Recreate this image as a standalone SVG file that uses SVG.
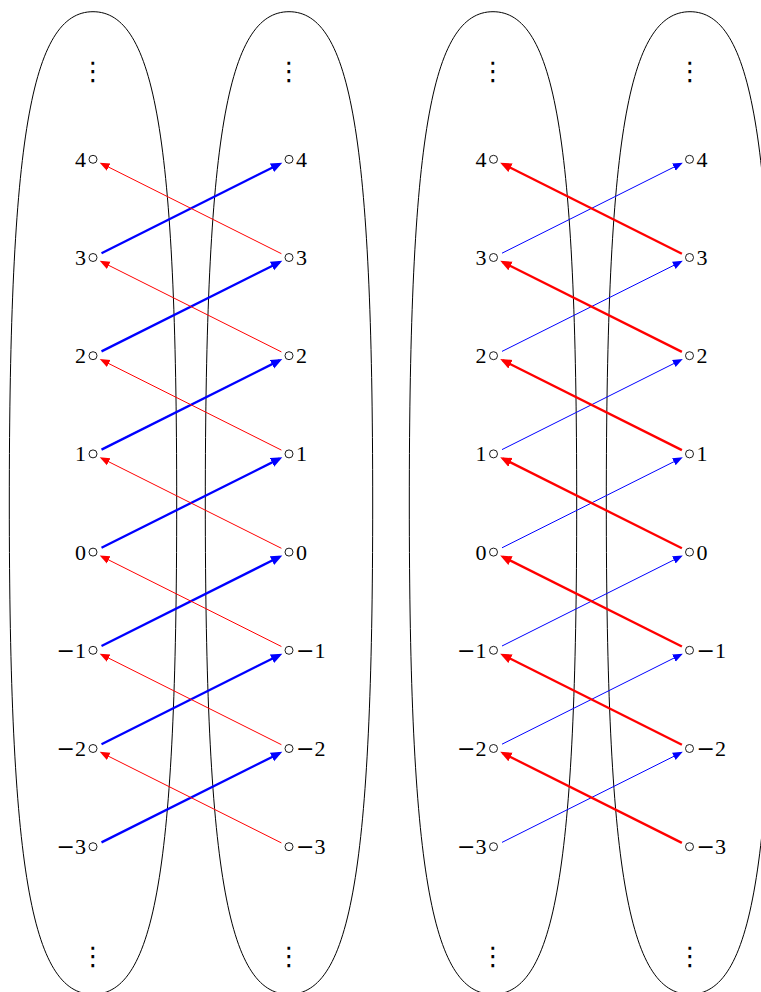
<svg xmlns="http://www.w3.org/2000/svg" width="761" height="992" viewBox="0 0 761 992">
<style>
.ell{fill:none;stroke:#000;stroke-width:1}
.nd{fill:#fff;stroke:#000;stroke-width:0.9}
.lbl{font-family:"Liberation Serif","DejaVu Serif",serif;font-size:22px;fill:#000}
.mn{font-family:"DejaVu Serif",serif}
.l{text-anchor:end}
.r{text-anchor:start}
.dots{font-family:"DejaVu Sans",sans-serif;font-size:26px;fill:#000;text-anchor:middle}
.bk{stroke:#0000ff;stroke-width:2.3;fill:none;marker-end:url(#ab)}
.bn{stroke:#0000ff;stroke-width:1;fill:none;marker-end:url(#abn)}
.rk{stroke:#ff0000;stroke-width:2.3;fill:none;marker-end:url(#ar)}
.rn{stroke:#ff0000;stroke-width:1;fill:none;marker-end:url(#arn)}
</style>
<defs>
<path id="oval" d="M0,11.7 C61.94,11.7 83.7,139.44 83.7,503 C83.7,866.56 61.94,994.3 0,994.3 C-61.94,994.3 -83.7,866.56 -83.7,503 C-83.7,139.44 -61.94,11.7 0,11.7 Z"/>
<marker id="ab" markerUnits="userSpaceOnUse" markerWidth="14" markerHeight="12" viewBox="0 -6 14 12" refX="8.5" refY="0" orient="auto"><path d="M0,-4.8 L11.5,0 L0,4.8 Z" fill="#0000ff"/></marker>
<marker id="abn" markerUnits="userSpaceOnUse" markerWidth="14" markerHeight="12" viewBox="0 -6 14 12" refX="7" refY="0" orient="auto"><path d="M0,-4 L10,0 L0,4 Z" fill="#0000ff"/></marker>
<marker id="ar" markerUnits="userSpaceOnUse" markerWidth="14" markerHeight="12" viewBox="0 -6 14 12" refX="8.5" refY="0" orient="auto"><path d="M0,-4.8 L11.5,0 L0,4.8 Z" fill="#ff0000"/></marker>
<marker id="arn" markerUnits="userSpaceOnUse" markerWidth="14" markerHeight="12" viewBox="0 -6 14 12" refX="7" refY="0" orient="auto"><path d="M0,-4 L10,0 L0,4 Z" fill="#ff0000"/></marker>
</defs>

<g id="ellipses">
<use href="#oval" class="ell" transform="translate(93,0)"/>
<use href="#oval" class="ell" transform="translate(289,0)"/>
<use href="#oval" class="ell" transform="translate(493,0)"/>
<use href="#oval" class="ell" transform="translate(690,0)"/>
</g>

<g id="connectors-left">
<line class="bk" x1="101.5" y1="253.2" x2="279.6" y2="164.0"/>
<line class="bk" x1="101.5" y1="351.4" x2="279.6" y2="262.2"/>
<line class="bk" x1="101.5" y1="449.6" x2="279.6" y2="360.4"/>
<line class="bk" x1="101.5" y1="547.8" x2="279.6" y2="458.6"/>
<line class="bk" x1="101.5" y1="646.0" x2="279.6" y2="556.8"/>
<line class="bk" x1="101.5" y1="744.2" x2="279.6" y2="655.0"/>
<line class="bk" x1="101.5" y1="842.4" x2="279.6" y2="753.2"/>
<line class="rn" x1="281.4" y1="253.7" x2="102.4" y2="164.0"/>
<line class="rn" x1="281.4" y1="351.9" x2="102.4" y2="262.2"/>
<line class="rn" x1="281.4" y1="450.1" x2="102.4" y2="360.4"/>
<line class="rn" x1="281.4" y1="548.3" x2="102.4" y2="458.6"/>
<line class="rn" x1="281.4" y1="646.5" x2="102.4" y2="556.8"/>
<line class="rn" x1="281.4" y1="744.7" x2="102.4" y2="655.0"/>
<line class="rn" x1="281.4" y1="842.9" x2="102.4" y2="753.2"/>
</g>

<g id="connectors-right" transform="translate(400.5,0)">
<line class="bn" x1="101.5" y1="253.2" x2="279.6" y2="164.0"/>
<line class="bn" x1="101.5" y1="351.4" x2="279.6" y2="262.2"/>
<line class="bn" x1="101.5" y1="449.6" x2="279.6" y2="360.4"/>
<line class="bn" x1="101.5" y1="547.8" x2="279.6" y2="458.6"/>
<line class="bn" x1="101.5" y1="646.0" x2="279.6" y2="556.8"/>
<line class="bn" x1="101.5" y1="744.2" x2="279.6" y2="655.0"/>
<line class="bn" x1="101.5" y1="842.4" x2="279.6" y2="753.2"/>
<line class="rk" x1="281.4" y1="253.7" x2="102.4" y2="164.0"/>
<line class="rk" x1="281.4" y1="351.9" x2="102.4" y2="262.2"/>
<line class="rk" x1="281.4" y1="450.1" x2="102.4" y2="360.4"/>
<line class="rk" x1="281.4" y1="548.3" x2="102.4" y2="458.6"/>
<line class="rk" x1="281.4" y1="646.5" x2="102.4" y2="556.8"/>
<line class="rk" x1="281.4" y1="744.7" x2="102.4" y2="655.0"/>
<line class="rk" x1="281.4" y1="842.9" x2="102.4" y2="753.2"/>
</g>

<g id="dots">
<text class="dots" x="93" y="80">⋮</text>
<text class="dots" x="289" y="80">⋮</text>
<text class="dots" x="493" y="80">⋮</text>
<text class="dots" x="690" y="80">⋮</text>
<text class="dots" x="93" y="965">⋮</text>
<text class="dots" x="289" y="965">⋮</text>
<text class="dots" x="493" y="965">⋮</text>
<text class="dots" x="690" y="965">⋮</text>
</g>

<g id="diagram-left">
<g id="L1-4"><circle class="nd" cx="93" cy="159.3" r="4"/><text class="lbl l" x="86" y="166.8">4</text></g>
<g id="L1-3"><circle class="nd" cx="93" cy="257.5" r="4"/><text class="lbl l" x="86" y="265">3</text></g>
<g id="L1-2"><circle class="nd" cx="93" cy="355.7" r="4"/><text class="lbl l" x="86" y="363.2">2</text></g>
<g id="L1-1"><circle class="nd" cx="93" cy="453.9" r="4"/><text class="lbl l" x="86" y="461.4">1</text></g>
<g id="L1-0"><circle class="nd" cx="93" cy="552.1" r="4"/><text class="lbl l" x="86" y="559.6">0</text></g>
<g id="L1-m1"><circle class="nd" cx="93" cy="650.3" r="4"/><text class="lbl l" x="86" y="657.8"><tspan class="mn">−</tspan>1</text></g>
<g id="L1-m2"><circle class="nd" cx="93" cy="748.5" r="4"/><text class="lbl l" x="86" y="756"><tspan class="mn">−</tspan>2</text></g>
<g id="L1-m3"><circle class="nd" cx="93" cy="846.7" r="4"/><text class="lbl l" x="86" y="854.2"><tspan class="mn">−</tspan>3</text></g>
<g id="R1-4"><circle class="nd" cx="289" cy="159.3" r="4"/><text class="lbl r" x="296" y="166.8">4</text></g>
<g id="R1-3"><circle class="nd" cx="289" cy="257.5" r="4"/><text class="lbl r" x="296" y="265">3</text></g>
<g id="R1-2"><circle class="nd" cx="289" cy="355.7" r="4"/><text class="lbl r" x="296" y="363.2">2</text></g>
<g id="R1-1"><circle class="nd" cx="289" cy="453.9" r="4"/><text class="lbl r" x="296" y="461.4">1</text></g>
<g id="R1-0"><circle class="nd" cx="289" cy="552.1" r="4"/><text class="lbl r" x="296" y="559.6">0</text></g>
<g id="R1-m1"><circle class="nd" cx="289" cy="650.3" r="4"/><text class="lbl r" x="296" y="657.8"><tspan class="mn">−</tspan>1</text></g>
<g id="R1-m2"><circle class="nd" cx="289" cy="748.5" r="4"/><text class="lbl r" x="296" y="756"><tspan class="mn">−</tspan>2</text></g>
<g id="R1-m3"><circle class="nd" cx="289" cy="846.7" r="4"/><text class="lbl r" x="296" y="854.2"><tspan class="mn">−</tspan>3</text></g>
</g>

<g id="diagram-right" transform="translate(400.5,0)">
<g id="L2-4"><circle class="nd" cx="93" cy="159.3" r="4"/><text class="lbl l" x="86" y="166.8">4</text></g>
<g id="L2-3"><circle class="nd" cx="93" cy="257.5" r="4"/><text class="lbl l" x="86" y="265">3</text></g>
<g id="L2-2"><circle class="nd" cx="93" cy="355.7" r="4"/><text class="lbl l" x="86" y="363.2">2</text></g>
<g id="L2-1"><circle class="nd" cx="93" cy="453.9" r="4"/><text class="lbl l" x="86" y="461.4">1</text></g>
<g id="L2-0"><circle class="nd" cx="93" cy="552.1" r="4"/><text class="lbl l" x="86" y="559.6">0</text></g>
<g id="L2-m1"><circle class="nd" cx="93" cy="650.3" r="4"/><text class="lbl l" x="86" y="657.8"><tspan class="mn">−</tspan>1</text></g>
<g id="L2-m2"><circle class="nd" cx="93" cy="748.5" r="4"/><text class="lbl l" x="86" y="756"><tspan class="mn">−</tspan>2</text></g>
<g id="L2-m3"><circle class="nd" cx="93" cy="846.7" r="4"/><text class="lbl l" x="86" y="854.2"><tspan class="mn">−</tspan>3</text></g>
<g id="R2-4"><circle class="nd" cx="289" cy="159.3" r="4"/><text class="lbl r" x="296" y="166.8">4</text></g>
<g id="R2-3"><circle class="nd" cx="289" cy="257.5" r="4"/><text class="lbl r" x="296" y="265">3</text></g>
<g id="R2-2"><circle class="nd" cx="289" cy="355.7" r="4"/><text class="lbl r" x="296" y="363.2">2</text></g>
<g id="R2-1"><circle class="nd" cx="289" cy="453.9" r="4"/><text class="lbl r" x="296" y="461.4">1</text></g>
<g id="R2-0"><circle class="nd" cx="289" cy="552.1" r="4"/><text class="lbl r" x="296" y="559.6">0</text></g>
<g id="R2-m1"><circle class="nd" cx="289" cy="650.3" r="4"/><text class="lbl r" x="296" y="657.8"><tspan class="mn">−</tspan>1</text></g>
<g id="R2-m2"><circle class="nd" cx="289" cy="748.5" r="4"/><text class="lbl r" x="296" y="756"><tspan class="mn">−</tspan>2</text></g>
<g id="R2-m3"><circle class="nd" cx="289" cy="846.7" r="4"/><text class="lbl r" x="296" y="854.2"><tspan class="mn">−</tspan>3</text></g>
</g>
</svg>
